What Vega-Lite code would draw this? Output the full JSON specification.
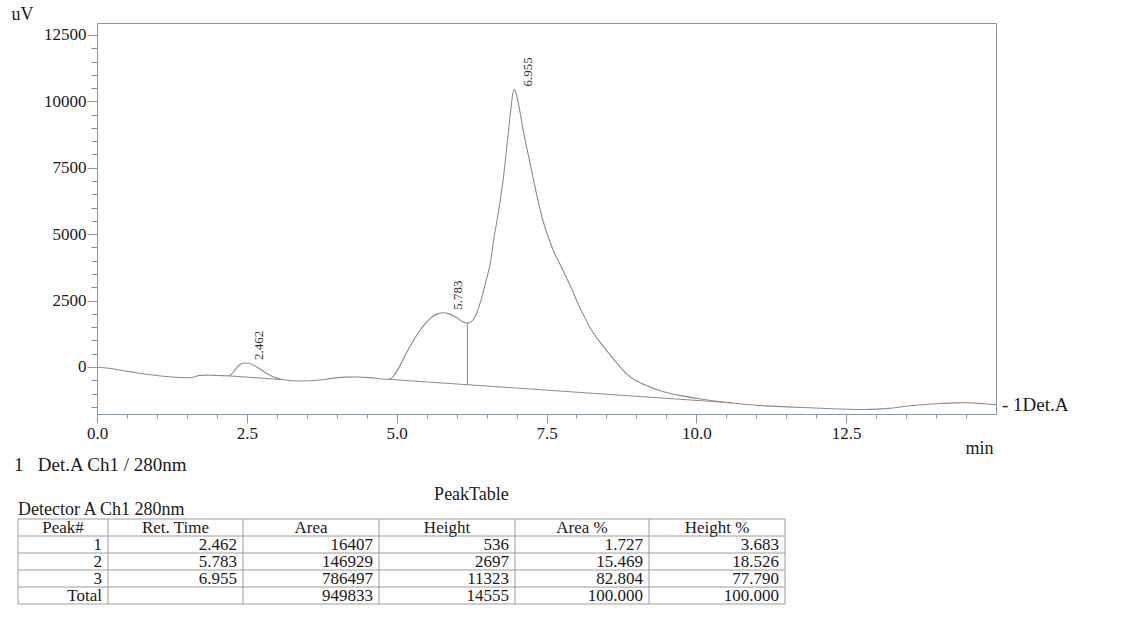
{
  "$schema": "https://vega.github.io/schema/vega-lite/v6.json",
  "background": "white",
  "padding": {"left": 10, "top": 4, "right": 5, "bottom": 5},
  "bounds": "flush",
  "spacing": 105,
  "config": {
    "text": {"font": "Liberation Serif", "color": "#1a1a1a"},
    "axis": {"grid": false, "labelOverlap": false, "domainColor": "#8797a8", "tickColor": "#8797a8", "labelFont": "Liberation Serif", "labelColor": "#1a1a1a", "titleFont": "Liberation Serif", "titleColor": "#1a1a1a", "titleFontWeight": "normal"}
  },
  "datasets": {
    "signal": [
      {"t": 0, "v": 0}, {"t": 0.2, "v": -50}, {"t": 0.4, "v": -120}, {"t": 0.6, "v": -195}, {"t": 0.8, "v": -265},
      {"t": 1.0, "v": -320}, {"t": 1.2, "v": -365}, {"t": 1.4, "v": -395}, {"t": 1.55, "v": -405}, {"t": 1.62, "v": -380},
      {"t": 1.7, "v": -320}, {"t": 1.8, "v": -305}, {"t": 1.95, "v": -315}, {"t": 2.1, "v": -325}, {"t": 2.2, "v": -335},
      {"t": 2.25, "v": -260}, {"t": 2.3, "v": -120}, {"t": 2.35, "v": 20}, {"t": 2.4, "v": 110}, {"t": 2.46, "v": 150},
      {"t": 2.53, "v": 140}, {"t": 2.6, "v": 80}, {"t": 2.7, "v": -50}, {"t": 2.8, "v": -200}, {"t": 2.9, "v": -330},
      {"t": 3.0, "v": -420}, {"t": 3.15, "v": -490}, {"t": 3.35, "v": -525}, {"t": 3.55, "v": -520}, {"t": 3.75, "v": -480},
      {"t": 3.95, "v": -420}, {"t": 4.15, "v": -380}, {"t": 4.35, "v": -375}, {"t": 4.55, "v": -400}, {"t": 4.75, "v": -450},
      {"t": 4.87, "v": -465}, {"t": 4.95, "v": -330}, {"t": 5.02, "v": -100}, {"t": 5.1, "v": 250}, {"t": 5.18, "v": 600},
      {"t": 5.27, "v": 950}, {"t": 5.35, "v": 1250}, {"t": 5.45, "v": 1560}, {"t": 5.57, "v": 1850}, {"t": 5.67, "v": 1990},
      {"t": 5.78, "v": 2040}, {"t": 5.88, "v": 2000}, {"t": 6.0, "v": 1860}, {"t": 6.1, "v": 1710}, {"t": 6.18, "v": 1650},
      {"t": 6.25, "v": 1720}, {"t": 6.32, "v": 1950}, {"t": 6.4, "v": 2460}, {"t": 6.48, "v": 3150}, {"t": 6.57, "v": 4000},
      {"t": 6.62, "v": 4800}, {"t": 6.68, "v": 5600}, {"t": 6.74, "v": 6450}, {"t": 6.79, "v": 7300}, {"t": 6.86, "v": 8750},
      {"t": 6.91, "v": 9800}, {"t": 6.955, "v": 10450}, {"t": 7.0, "v": 10250}, {"t": 7.05, "v": 9700}, {"t": 7.12, "v": 8800},
      {"t": 7.2, "v": 7950}, {"t": 7.26, "v": 7300}, {"t": 7.35, "v": 6350}, {"t": 7.43, "v": 5600}, {"t": 7.52, "v": 4950},
      {"t": 7.62, "v": 4350}, {"t": 7.73, "v": 3850}, {"t": 7.84, "v": 3330}, {"t": 7.93, "v": 2900}, {"t": 8.01, "v": 2460},
      {"t": 8.12, "v": 1950}, {"t": 8.23, "v": 1470}, {"t": 8.37, "v": 1000}, {"t": 8.51, "v": 600}, {"t": 8.67, "v": 160},
      {"t": 8.84, "v": -270}, {"t": 9.0, "v": -520}, {"t": 9.2, "v": -730}, {"t": 9.4, "v": -895}, {"t": 9.7, "v": -1060},
      {"t": 10.0, "v": -1180}, {"t": 10.3, "v": -1280}, {"t": 10.55, "v": -1345}, {"t": 11.0, "v": -1440}, {"t": 11.5, "v": -1500},
      {"t": 11.9, "v": -1535}, {"t": 12.4, "v": -1580}, {"t": 12.85, "v": -1600}, {"t": 13.2, "v": -1560}, {"t": 13.57, "v": -1460},
      {"t": 14.0, "v": -1385}, {"t": 14.3, "v": -1350}, {"t": 14.57, "v": -1345}, {"t": 14.8, "v": -1385}, {"t": 15.0, "v": -1420}
    ],
    "baselines": [
      {"seg": "peak1", "t": 2.2, "v": -335}, {"seg": "peak1", "t": 3.05, "v": -470},
      {"seg": "peak23", "t": 4.87, "v": -465}, {"seg": "peak23", "t": 10.6, "v": -1350},
      {"seg": "drop", "t": 6.18, "v": -665}, {"seg": "drop", "t": 6.18, "v": 1650}
    ],
    "peaks": [
      {"t": 2.462, "v": 150, "label": "2.462"},
      {"t": 5.783, "v": 2040, "label": "5.783"},
      {"t": 6.955, "v": 10450, "label": "6.955"}
    ],
    "channel": [{"t": 15, "v": -1420, "label": "- 1Det.A"}],
    "borders": [{"b": 0}, {"b": 1}, {"b": 2}, {"b": 3}, {"b": 4}, {"b": 5}, {"b": 6}],
    "rowlines": [{"r": -0.5}, {"r": 0.5}, {"r": 1.5}, {"r": 2.5}, {"r": 3.5}, {"r": 4.5}],
    "headers": [
      {"row": 0, "col": 1, "text": "Peak#"}, {"row": 0, "col": 2, "text": "Ret. Time"}, {"row": 0, "col": 3, "text": "Area"},
      {"row": 0, "col": 4, "text": "Height"}, {"row": 0, "col": 5, "text": "Area %"}, {"row": 0, "col": 6, "text": "Height %"}
    ],
    "cells": [
      {"row": 1, "col": 1, "text": "1"}, {"row": 1, "col": 2, "text": "2.462"}, {"row": 1, "col": 3, "text": "16407"},
      {"row": 1, "col": 4, "text": "536"}, {"row": 1, "col": 5, "text": "1.727"}, {"row": 1, "col": 6, "text": "3.683"},
      {"row": 2, "col": 1, "text": "2"}, {"row": 2, "col": 2, "text": "5.783"}, {"row": 2, "col": 3, "text": "146929"},
      {"row": 2, "col": 4, "text": "2697"}, {"row": 2, "col": 5, "text": "15.469"}, {"row": 2, "col": 6, "text": "18.526"},
      {"row": 3, "col": 1, "text": "3"}, {"row": 3, "col": 2, "text": "6.955"}, {"row": 3, "col": 3, "text": "786497"},
      {"row": 3, "col": 4, "text": "11323"}, {"row": 3, "col": 5, "text": "82.804"}, {"row": 3, "col": 6, "text": "77.790"},
      {"row": 4, "col": 1, "text": "Total"}, {"row": 4, "col": 3, "text": "949833"},
      {"row": 4, "col": 4, "text": "14555"}, {"row": 4, "col": 5, "text": "100.000"}, {"row": 4, "col": 6, "text": "100.000"}
    ]
  },
  "vconcat": [
    {
      "width": 899,
      "height": 391,
      "view": {"stroke": "#8797a8", "strokeWidth": 1},
      "layer": [
        {
          "data": {"name": "signal"},
          "mark": {"type": "line", "color": "#8c8c8c", "strokeWidth": 1.1, "interpolate": "monotone"},
          "encoding": {
            "x": {
              "field": "t", "type": "quantitative",
              "scale": {"domain": [0, 15], "nice": false, "zero": false},
              "axis": {
                "values": [0, 0.5, 1, 1.5, 2, 2.5, 3, 3.5, 4, 4.5, 5, 5.5, 6, 6.5, 7, 7.5, 8, 8.5, 9, 9.5, 10, 10.5, 11, 11.5, 12, 12.5, 13, 13.5, 14, 14.5],
                "tickCount": 200,
                "labelExpr": "datum.value % 2.5 === 0 ? format(datum.value, '.1f') : ''",
                "labelFontSize": {"condition": {"test": "datum.value % 2.5 === 0", "value": 17}, "value": 0},
                "labelPadding": 2, "labelOverlap": false, "labelFlush": false, "labelBound": false,
                "tickSize": {"condition": {"test": "datum.value % 2.5 === 0", "value": 9}, "value": 4},
                "title": "min", "titleFontSize": 18, "titleX": 882, "titleY": 39, "titleAlign": "center", "titleBaseline": "alphabetic"
              }
            },
            "y": {
              "field": "v", "type": "quantitative",
              "scale": {"domain": [-1770, 12950], "nice": false, "zero": false},
              "axis": {
                "values": [-1500, -1000, -500, 0, 500, 1000, 1500, 2000, 2500, 3000, 3500, 4000, 4500, 5000, 5500, 6000, 6500, 7000, 7500, 8000, 8500, 9000, 9500, 10000, 10500, 11000, 11500, 12000, 12500],
                "tickCount": 200,
                "labelExpr": "datum.value % 2500 === 0 ? format(datum.value, 'd') : ''",
                "labelFontSize": {"condition": {"test": "datum.value % 2500 === 0", "value": 17}, "value": 0},
                "labelPadding": 1, "labelOverlap": false, "labelFlush": false, "labelBound": false,
                "tickSize": {"condition": {"test": "datum.value % 2500 === 0", "value": 10}, "value": 6},
                "title": "uV", "titleFontSize": 18, "titleAngle": 0, "titleX": -86, "titleY": -4, "titleAlign": "left", "titleBaseline": "alphabetic"
              }
            }
          }
        },
        {
          "data": {"name": "baselines"},
          "mark": {"type": "line", "color": "#8c8c8c", "strokeWidth": 1},
          "encoding": {
            "x": {"field": "t", "type": "quantitative"},
            "y": {"field": "v", "type": "quantitative"},
            "detail": {"field": "seg"}
          }
        },
        {
          "data": {"name": "peaks"},
          "mark": {"type": "text", "angle": 270, "align": "left", "baseline": "middle", "dx": 3, "dy": 14, "font": "Liberation Sans Narrow", "fontSize": 13, "color": "#333333"},
          "encoding": {
            "x": {"field": "t", "type": "quantitative"},
            "y": {"field": "v", "type": "quantitative"},
            "text": {"field": "label"}
          }
        },
        {
          "data": {"name": "channel"},
          "mark": {"type": "text", "align": "left", "baseline": "middle", "dx": 6, "fontSize": 19},
          "encoding": {
            "x": {"field": "t", "type": "quantitative"},
            "y": {"field": "v", "type": "quantitative"},
            "text": {"field": "label"}
          }
        }
      ]
    },
    {
      "width": 688,
      "height": 85,
      "view": {"stroke": null},
      "resolve": {"scale": {"x": "independent"}},
      "layer": [
        {
          "data": {"name": "borders"},
          "mark": {"type": "rule", "color": "#9c9c9c", "strokeWidth": 1},
          "encoding": {
            "x": {"field": "b", "type": "quantitative", "scale": {"domain": [0, 1, 2, 3, 4, 5, 6], "range": [-79, 11, 146, 282, 418, 552, 688], "nice": false, "zero": false}, "axis": null}
          }
        },
        {
          "data": {"name": "rowlines"},
          "mark": {"type": "rule", "color": "#9c9c9c", "strokeWidth": 1},
          "encoding": {
            "y": {"field": "r", "type": "quantitative", "scale": {"domain": [-0.5, 4.5], "range": [0, 85], "nice": false, "zero": false}, "axis": null},
            "x": {"datum": 0, "type": "quantitative", "scale": {"domain": [0, 1, 2, 3, 4, 5, 6], "range": [-79, 11, 146, 282, 418, 552, 688], "nice": false, "zero": false}, "axis": null},
            "x2": {"datum": 6}
          }
        },
        {
          "data": {"name": "headers"},
          "mark": {"type": "text", "align": "center", "baseline": "middle", "fontSize": 17},
          "encoding": {
            "x": {"field": "col", "type": "quantitative", "scale": {"domain": [1, 2, 3, 4, 5, 6], "range": [-34, 78.5, 214, 350, 485, 620], "nice": false, "zero": false}, "axis": null},
            "y": {"field": "row", "type": "quantitative", "scale": {"domain": [-0.5, 4.5], "range": [0, 85], "nice": false, "zero": false}, "axis": null},
            "text": {"field": "text"}
          }
        },
        {
          "data": {"name": "cells"},
          "mark": {"type": "text", "align": "right", "baseline": "middle", "dx": -6, "fontSize": 17},
          "encoding": {
            "x": {"field": "col", "type": "quantitative", "scale": {"domain": [0, 1, 2, 3, 4, 5, 6], "range": [-79, 11, 146, 282, 418, 552, 688], "nice": false, "zero": false}, "axis": null},
            "y": {"field": "row", "type": "quantitative", "axis": null},
            "text": {"field": "text"}
          }
        },
        {
          "data": {"values": [{"text": "1\u00a0\u00a0\u00a0Det.A Ch1 / 280nm", "row": -3.68, "col": 0}]},
          "mark": {"type": "text", "align": "left", "baseline": "middle", "dx": -4, "fontSize": 19},
          "encoding": {
            "x": {"field": "col", "type": "quantitative", "scale": {"domain": [0, 1, 2, 3, 4, 5, 6], "range": [-79, 11, 146, 282, 418, 552, 688], "nice": false, "zero": false}, "axis": null},
            "y": {"field": "row", "type": "quantitative", "axis": null},
            "text": {"field": "text"}
          }
        },
        {
          "data": {"values": [{"text": "Detector A Ch1 280nm", "row": -1.05, "col": 0}]},
          "mark": {"type": "text", "align": "left", "baseline": "middle", "fontSize": 18},
          "encoding": {
            "x": {"field": "col", "type": "quantitative", "scale": {"domain": [0, 1, 2, 3, 4, 5, 6], "range": [-79, 11, 146, 282, 418, 552, 688], "nice": false, "zero": false}, "axis": null},
            "y": {"field": "row", "type": "quantitative", "axis": null},
            "text": {"field": "text"}
          }
        },
        {
          "data": {"values": [{"text": "PeakTable", "row": -1.91, "col": 3.68}]},
          "mark": {"type": "text", "align": "center", "baseline": "middle", "fontSize": 18},
          "encoding": {
            "x": {"field": "col", "type": "quantitative", "scale": {"domain": [0, 1, 2, 3, 4, 5, 6], "range": [-79, 11, 146, 282, 418, 552, 688], "nice": false, "zero": false}, "axis": null},
            "y": {"field": "row", "type": "quantitative", "axis": null},
            "text": {"field": "text"}
          }
        }
      ]
    }
  ]
}
